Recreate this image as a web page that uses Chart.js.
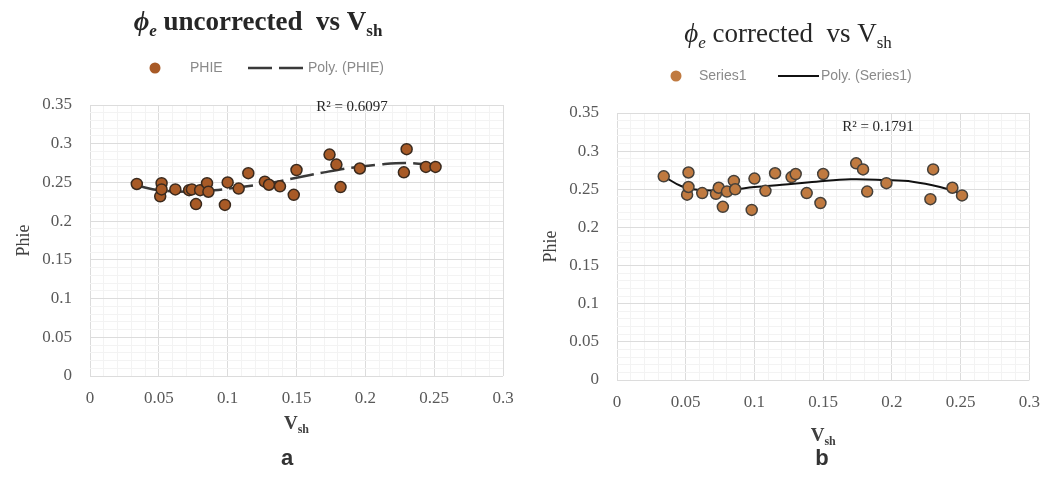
<!DOCTYPE html>
<html>
<head>
<meta charset="utf-8">
<script src="https://cdn.jsdelivr.net/npm/chart.js@4.4.0/dist/chart.umd.min.js"></script>
<style>
html, body { margin: 0; padding: 0; background: #fff; }
#wrap { display: flex; width: 1052px; height: 480px; }
.box { position: relative; width: 526px; height: 480px; }
</style>
</head>
<body>
<div id="wrap">
    <div class="box"><canvas id="chartA"></canvas></div>
    <div class="box"><canvas id="chartB"></canvas></div>
</div>
<script>
// Shale volume (same samples in both panels)
const vsh = [0.034, 0.051, 0.052, 0.052, 0.062, 0.072, 0.074, 0.077, 0.080, 0.085, 0.086, 0.098, 0.100, 0.108,
             0.115, 0.127, 0.130, 0.138, 0.148, 0.150, 0.174, 0.179, 0.182, 0.196, 0.228, 0.230, 0.244, 0.251];
const phieUncorrected = [0.248, 0.232, 0.249, 0.241, 0.241, 0.240, 0.241, 0.222, 0.240, 0.249, 0.238, 0.221, 0.250, 0.242,
                         0.262, 0.251, 0.247, 0.245, 0.234, 0.266, 0.286, 0.273, 0.244, 0.268, 0.263, 0.293, 0.270, 0.270];
const phieCorrected = [0.267, 0.243, 0.272, 0.253, 0.245, 0.244, 0.252, 0.227, 0.247, 0.261, 0.250, 0.223, 0.264, 0.248,
                       0.271, 0.266, 0.270, 0.245, 0.232, 0.270, 0.284, 0.276, 0.247, 0.258, 0.237, 0.276, 0.252, 0.242];

// Polynomial trend lines
const trendXA = [0.034, 0.05, 0.07, 0.09, 0.11, 0.13, 0.15, 0.17, 0.19, 0.21, 0.23, 0.252];
const trendA = [0.246, 0.240, 0.238, 0.240, 0.244, 0.249, 0.256, 0.263, 0.269, 0.273, 0.275, 0.272];
const trendXB = [0.034, 0.047, 0.06, 0.08, 0.10, 0.12, 0.145, 0.17, 0.195, 0.215, 0.235, 0.251];
const trendB = [0.267, 0.254, 0.249, 0.249, 0.253, 0.256, 0.260, 0.263, 0.262, 0.260, 0.253, 0.244];

const xTickLabels = ['0', '0.05', '0.1', '0.15', '0.2', '0.25', '0.3'];
const yTickLabels = ['0', '0.05', '0.1', '0.15', '0.2', '0.25', '0.3', '0.35'];

const SERIF = '"Liberation Serif", "Times New Roman", serif';
const SANS = '"Liberation Sans", Arial, sans-serif';

function toPoints(xs, ys) {
    return xs.map((x, i) => ({ x: x, y: ys[i] }));
}

function isMajor(v) {
    return Math.abs(v / 0.05 - Math.round(v / 0.05)) < 1e-6;
}

function tickText(labels) {
    return function(v) {
        return isMajor(v) ? labels[Math.round(v / 0.05)] : '';
    };
}

function minorTicks(max) {
    return function(scale) {
        const ticks = [];
        for (let i = 0; i <= Math.round(max * 100); i++) ticks.push({ value: i / 100 });
        scale.ticks = ticks;
    };
}

// draws text made of pieces, some italic / subscript
function drawRich(ctx, parts, cx, y, size, weight) {
    const fontOf = p => (p.italic ? 'italic ' : '') + weight + ' ' + (p.sub ? Math.round(size * 0.62) : size) + 'px ' + SERIF;
    let total = 0;
    parts.forEach(p => { ctx.font = fontOf(p); p.w = ctx.measureText(p.t).width; total += p.w; });
    let x = cx - total / 2;
    ctx.textAlign = 'left';
    ctx.textBaseline = 'alphabetic';
    parts.forEach(p => {
        ctx.font = fontOf(p);
        ctx.fillText(p.t, x, p.sub ? y + size * 0.22 : y);
        x += p.w;
    });
}

const decoPlugin = {
    id: 'deco',
    afterDraw(chart, args, o) {
        const ctx = chart.ctx;
        const a = chart.chartArea;
        const pts = chart.data.datasets[0];
        const line = chart.data.datasets[1];
        ctx.save();

        // title
        ctx.fillStyle = '#262626';
        drawRich(ctx, o.title, o.titleX, o.titleY, 27, o.titleWeight);

        // legend
        ctx.font = '14px ' + SANS;
        ctx.textBaseline = 'middle';
        ctx.textAlign = 'left';
        ctx.beginPath();
        ctx.arc(o.legend.dotX, o.legendY, 5.5, 0, Math.PI * 2);
        ctx.fillStyle = pts.backgroundColor;
        ctx.fill();
        ctx.fillStyle = '#8a8a8a';
        ctx.fillText(o.legend.dotText, o.legend.dotTextX, o.legendY);
        ctx.beginPath();
        ctx.setLineDash(line.borderDash || []);
        ctx.strokeStyle = line.borderColor;
        ctx.lineWidth = line.borderWidth;
        ctx.moveTo(o.legend.lineX1, o.legendY);
        ctx.lineTo(o.legend.lineX2, o.legendY);
        ctx.stroke();
        ctx.setLineDash([]);
        ctx.fillText(o.legend.lineText, o.legend.lineX2 + 2, o.legendY);

        // R squared
        ctx.fillStyle = '#262626';
        ctx.font = '15px ' + SERIF;
        ctx.textAlign = 'center';
        ctx.fillText(o.r2, a.left + o.r2Dx, a.top + o.r2Dy);

        // axis titles
        ctx.fillStyle = '#404040';
        drawRich(ctx, [{ t: 'V' }, { t: 'sh', sub: true }], (a.left + a.right) / 2, o.xTitleY, 19, 'bold');
        ctx.save();
        ctx.translate(o.yTitleX, (a.top + a.bottom) / 2);
        ctx.rotate(-Math.PI / 2);
        ctx.font = '18px ' + SERIF;
        ctx.textAlign = 'center';
        ctx.textBaseline = 'middle';
        ctx.fillText('Phie', 0, 0);
        ctx.restore();

        // panel letter
        ctx.fillStyle = '#333';
        ctx.font = 'bold 22px ' + SANS;
        ctx.textAlign = 'center';
        ctx.textBaseline = 'middle';
        ctx.fillText(o.letter, o.letterX, 459);

        ctx.restore();
    }
};

function makeChart(id, phie, tx, ty, look) {
    new Chart(document.getElementById(id), {
        type: 'scatter',
        data: {
            datasets: [{
                label: look.dotText,
                data: toPoints(vsh, phie),
                backgroundColor: look.dotFill,
                borderColor: look.dotEdge,
                borderWidth: 1.5,
                pointRadius: 5.5,
                pointHoverRadius: 5.5,
                order: 1
            }, {
                label: look.lineText,
                data: toPoints(tx, ty),
                showLine: true,
                borderColor: look.lineColor,
                borderWidth: look.lineWidth,
                borderDash: look.dash,
                pointRadius: 0,
                tension: 0.4,
                fill: false,
                order: 2
            }]
        },
        options: {
            responsive: true,
            maintainAspectRatio: false,
            animation: false,
            events: [],
            layout: { padding: { left: 0, right: look.padRight, top: look.padTop, bottom: 0 } },
            plugins: {
                legend: { display: false },
                tooltip: { enabled: false },
                deco: look
            },
            scales: {
                x: {
                    type: 'linear',
                    min: 0,
                    max: 0.3,
                    afterBuildTicks: minorTicks(0.3),
                    afterFit: s => { s.height = look.xHeight; },
                    grid: {
                        drawTicks: false,
                        color: c => isMajor(c.tick.value) ? '#dcdcdc' : '#f3f3f3'
                    },
                    border: { display: false },
                    ticks: {
                        autoSkip: false,
                        maxRotation: 0,
                        padding: 12,
                        color: '#595959',
                        font: { family: SERIF, size: 17 },
                        callback: tickText(xTickLabels)
                    }
                },
                y: {
                    type: 'linear',
                    min: 0,
                    max: 0.35,
                    afterBuildTicks: minorTicks(0.35),
                    afterFit: s => { s.width = look.yWidth; },
                    grid: {
                        drawTicks: false,
                        color: c => isMajor(c.tick.value) ? '#dcdcdc' : '#f3f3f3'
                    },
                    border: { display: false },
                    ticks: {
                        autoSkip: false,
                        padding: 18,
                        color: '#595959',
                        font: { family: SERIF, size: 17 },
                        callback: tickText(yTickLabels)
                    }
                }
            }
        },
        plugins: [decoPlugin]
    });
}

makeChart('chartA', phieUncorrected, trendXA, trendA, {
    title: [{ t: '\u03D5', italic: true }, { t: 'e', italic: true, sub: true }, { t: ' uncorrected  vs V' }, { t: 'sh', sub: true }],
    titleWeight: 'bold', titleX: 258, titleY: 30,
    legendY: 68,
    legend: { dotX: 155, dotTextX: 190, dotText: 'PHIE', lineX1: 248, lineX2: 306, lineText: 'Poly. (PHIE)' },
    dotText: 'PHIE', lineText: 'Poly. (PHIE)',
    dotFill: '#a85a26', dotEdge: '#3a2a1e',
    lineColor: '#3a3a3a', lineWidth: 2.5, dash: [24, 7],
    r2: 'R\u00B2 = 0.6097', r2Dx: 262, r2Dy: 2,
    padRight: 23, padTop: 105, xHeight: 104, yWidth: 90,
    xTitleY: 429, yTitleX: 24,
    letter: 'a', letterX: 287
});

makeChart('chartB', phieCorrected, trendXB, trendB, {
    title: [{ t: '\u03D5', italic: true }, { t: 'e', italic: true, sub: true }, { t: ' corrected  vs V' }, { t: 'sh', sub: true }],
    titleWeight: 'normal', titleX: 262, titleY: 42,
    legendY: 76,
    legend: { dotX: 150, dotTextX: 173, dotText: 'Series1', lineX1: 252, lineX2: 293, lineText: 'Poly. (Series1)' },
    dotText: 'Series1', lineText: 'Poly. (Series1)',
    dotFill: '#c07a40', dotEdge: '#45403a',
    lineColor: '#111111', lineWidth: 2, dash: [],
    r2: 'R\u00B2 = 0.1791', r2Dx: 261, r2Dy: 14,
    padRight: 14, padTop: 113, xHeight: 100, yWidth: 91,
    xTitleY: 441, yTitleX: 25,
    letter: 'b', letterX: 296
});
</script>
</body>
</html>
